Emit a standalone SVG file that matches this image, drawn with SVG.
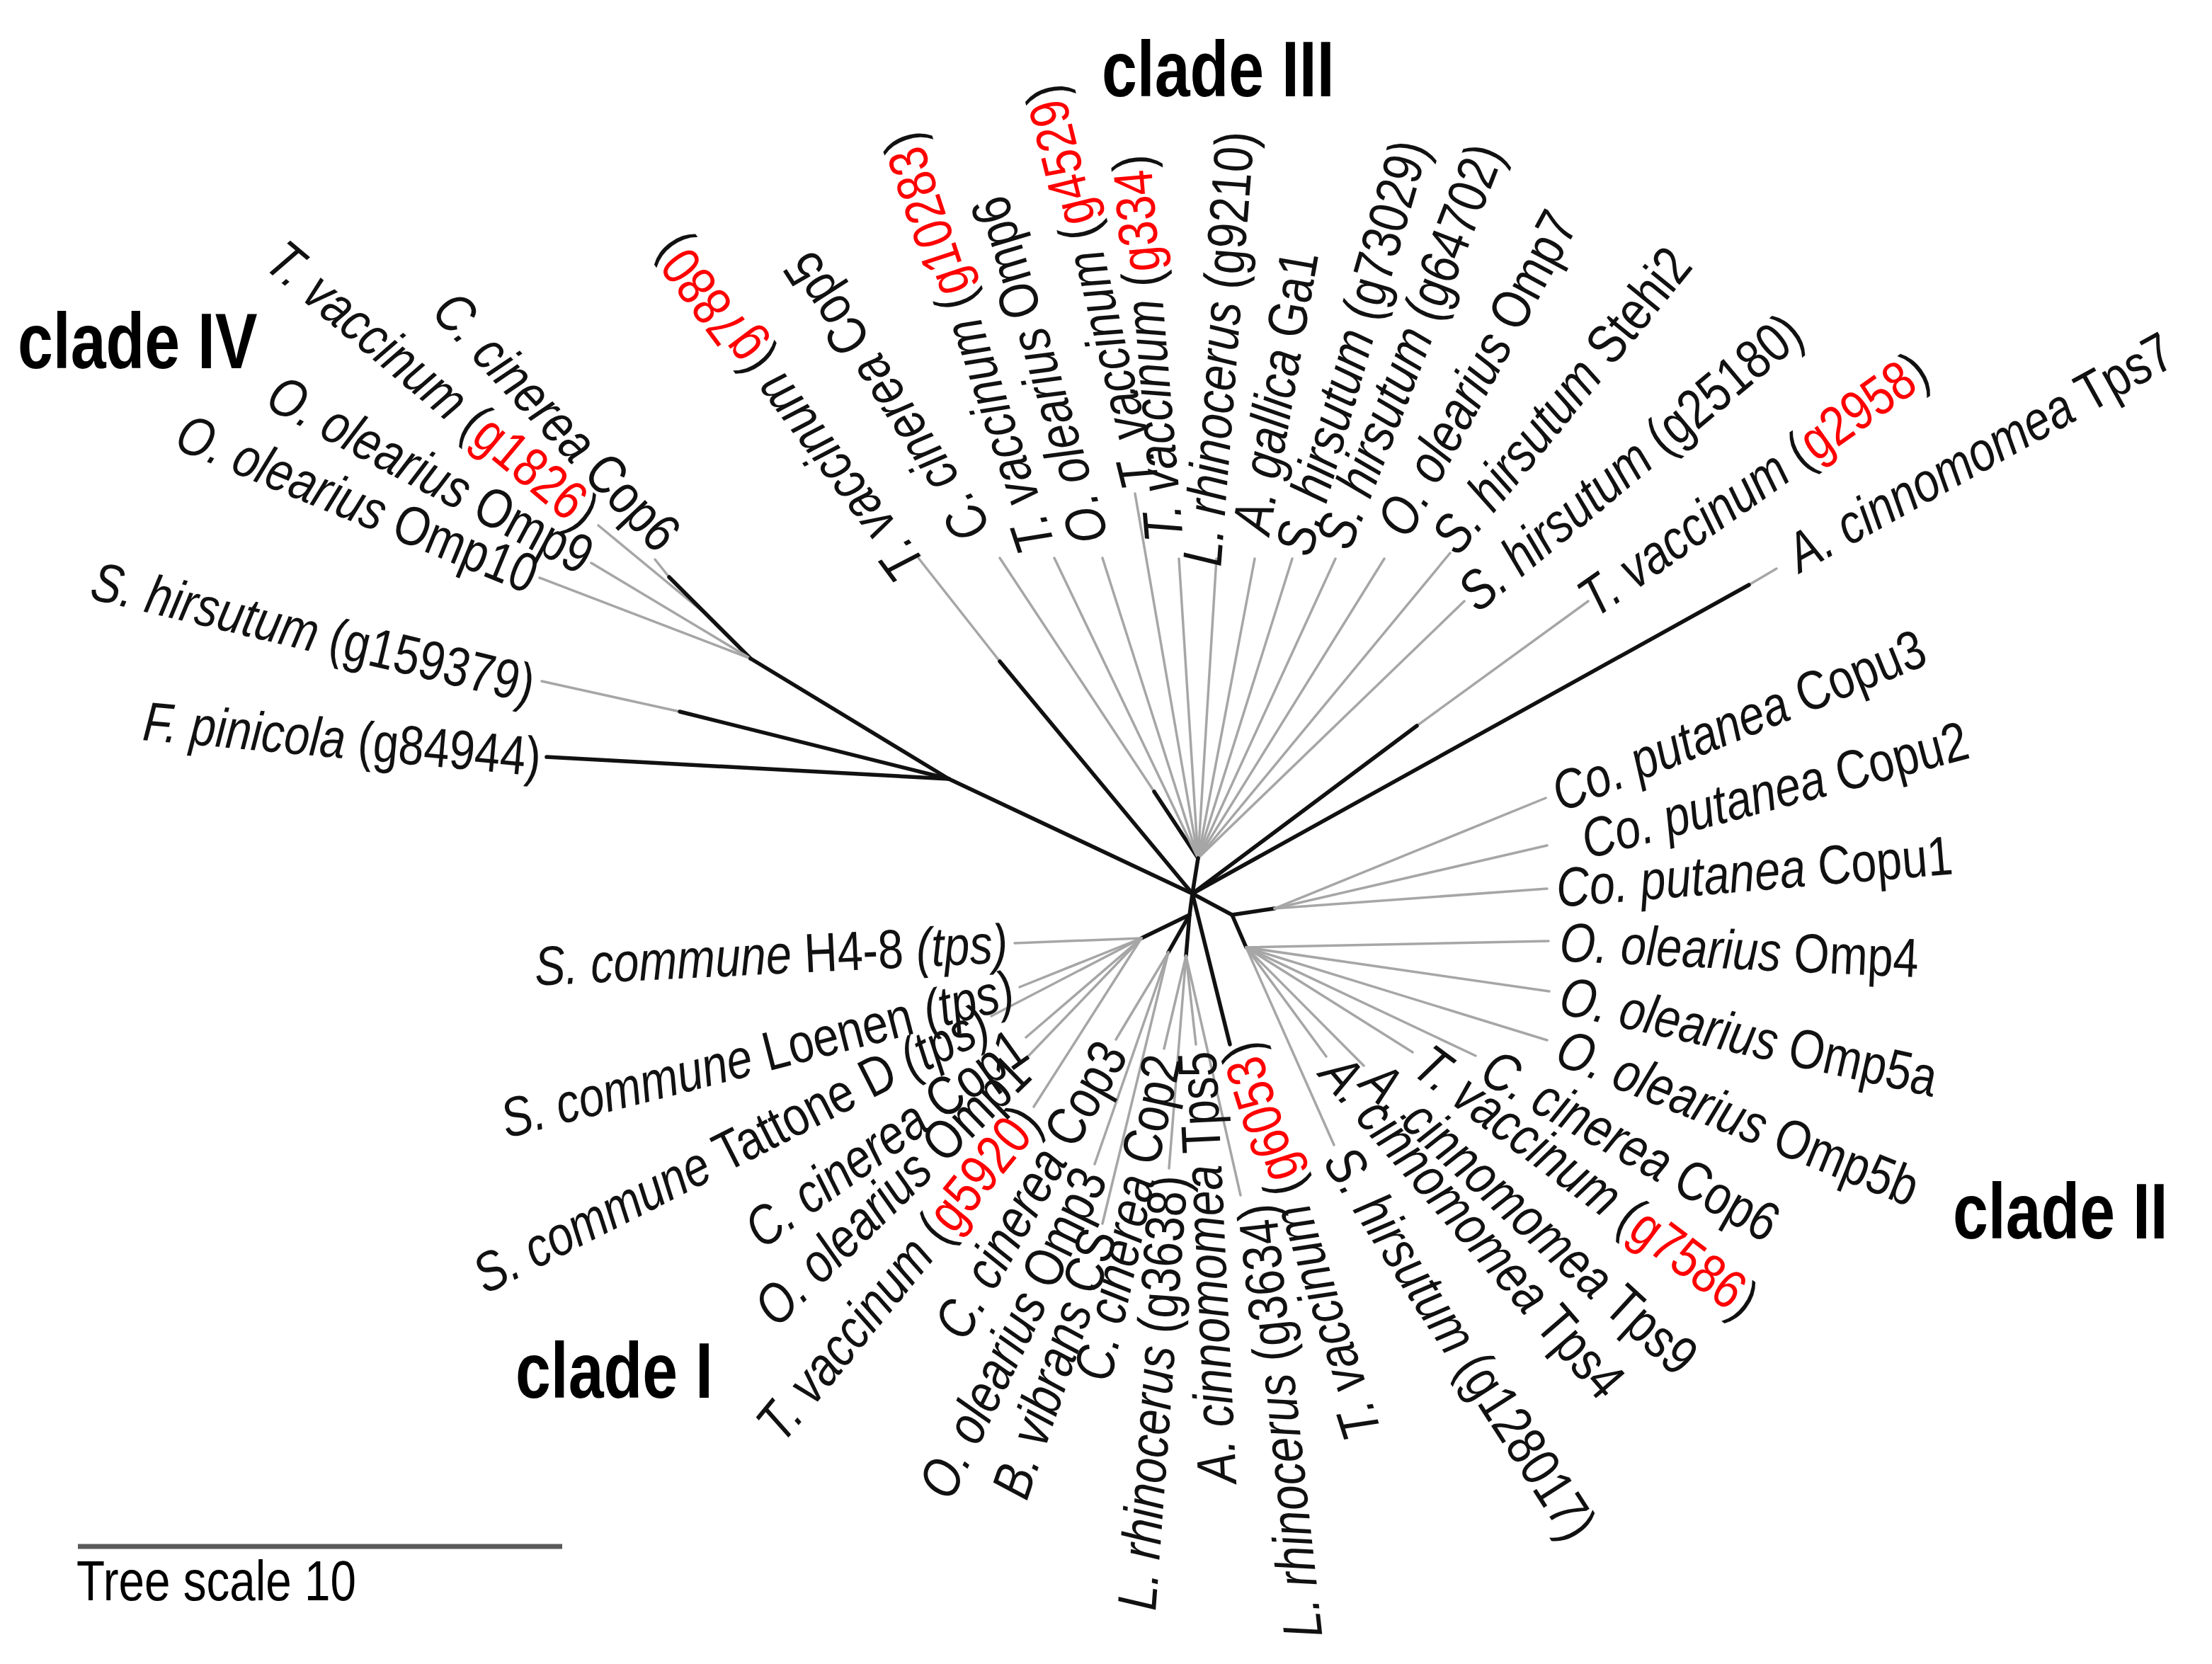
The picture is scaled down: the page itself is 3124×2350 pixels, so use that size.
<svg xmlns="http://www.w3.org/2000/svg" width="3124" height="2350" viewBox="0 0 3124 2350">
<style>
.l{font-family:"Liberation Sans",Arial,Helvetica,sans-serif;font-size:78px;fill:#111;dominant-baseline:central}
.i{font-style:italic}
.r{fill:#ff0000}
.c{font-family:"Liberation Sans",Arial,Helvetica,sans-serif;font-size:112px;font-weight:bold;fill:#000}
.s{font-family:"Liberation Sans",Arial,Helvetica,sans-serif;font-size:80px;fill:#000}
.t{stroke:#a6a6a6;stroke-width:3.5;fill:none;stroke-linecap:round}
.b{stroke:#111;stroke-width:5.5;fill:none;stroke-linecap:round}
</style>
<rect width="3124" height="2350" fill="#ffffff"/>
<g id="connectors">
<!-- clade IV -->
<path class="t" d="M845,742 L1000,870"/>
<path class="t" d="M925,790 L945,815"/>
<path class="b" d="M945,815 L1060,930"/>
<path class="t" d="M835,795 L1060,930"/>
<path class="t" d="M762,816 L1060,930"/>
<path class="b" d="M1060,930 L1340,1100"/>
<path class="t" d="M765,962 L960,1005"/>
<path class="b" d="M960,1005 L1340,1100"/>
<path class="b" d="M772,1069 L1340,1100"/>
<path class="b" d="M1340,1100 L1684,1262"/>
<!-- clade III -->
<path class="t" d="M1297,788 L1412,934"/>
<path class="b" d="M1412,934 L1684,1262"/>
<path class="t" d="M1412,788 L1630,1118"/>
<path class="b" d="M1630,1118 L1692,1212"/>
<path class="t" d="M1489,788 L1692,1212"/>
<path class="t" d="M1557,788 L1692,1212"/>
<path class="t" d="M1603,697 L1692,1212"/>
<path class="t" d="M1665,789 L1692,1212"/>
<path class="t" d="M1718,789 L1692,1212"/>
<path class="t" d="M1772,789 L1692,1212"/>
<path class="t" d="M1825,789 L1692,1212"/>
<path class="t" d="M1886,789 L1692,1212"/>
<path class="t" d="M1955,789 L1692,1212"/>
<path class="t" d="M2048,781 L1692,1212"/>
<path class="t" d="M2068,849 L1692,1212"/>
<path class="b" d="M1692,1212 L1684,1262"/>
<path class="t" d="M2243,849 L2001,1025"/>
<path class="b" d="M2001,1025 L1684,1262"/>
<path class="t" d="M2509,803 L2470,826"/>
<path class="b" d="M2470,826 L1684,1262"/>
<!-- clade II -->
<path class="b" d="M1684,1262 L1740,1292"/>
<path class="b" d="M1740,1292 L1800,1283"/>
<path class="b" d="M1740,1292 L1760,1338"/>
<path class="t" d="M2183,1127 L1800,1283"/>
<path class="t" d="M2185,1194 L1800,1283"/>
<path class="t" d="M2185,1255 L1800,1283"/>
<path class="t" d="M2187,1329 L1760,1338"/>
<path class="t" d="M2188,1400 L1760,1338"/>
<path class="t" d="M2185,1469 L1760,1338"/>
<path class="t" d="M2084,1491 L1760,1338"/>
<path class="t" d="M1995,1486 L1760,1338"/>
<path class="t" d="M1926,1505 L1760,1338"/>
<path class="t" d="M1873,1492 L1760,1338"/>
<path class="t" d="M1884,1617 L1760,1338"/>
<!-- clade I -->
<path class="b" d="M1684,1262 L1680,1292"/>
<path class="b" d="M1680,1292 L1612,1325"/>
<path class="b" d="M1680,1292 L1650,1345"/>
<path class="b" d="M1680,1292 L1675,1350"/>
<path class="b" d="M1684,1262 L1737,1475"/>
<path class="t" d="M1433,1332 L1612,1325"/>
<path class="t" d="M1440,1394 L1612,1325"/>
<path class="t" d="M1400,1435 L1612,1325"/>
<path class="t" d="M1449,1465 L1612,1325"/>
<path class="t" d="M1448,1496 L1612,1325"/>
<path class="t" d="M1460,1563 L1612,1325"/>
<path class="t" d="M1576,1468 L1650,1345"/>
<path class="t" d="M1546,1644 L1650,1345"/>
<path class="t" d="M1557,1728 L1650,1345"/>
<path class="t" d="M1644,1481 L1675,1350"/>
<path class="t" d="M1651,1650 L1675,1350"/>
<path class="t" d="M1689,1475 L1675,1350"/>
<path class="t" d="M1752,1688 L1675,1350"/>
</g>
<!-- clade IV leaves -->
<g id="n-g1826"><text class="l" text-anchor="end" transform="translate(835 731) rotate(40) scale(0.83 1)"><tspan class="i">T. vaccinum</tspan> (<tspan class="r">g1826</tspan>)</text></g>
<g id="n-cop6-iv"><text class="l" text-anchor="end" transform="translate(947 765) rotate(46.8) scale(0.83 1)"><tspan class="i">C. cinerea</tspan> Cop6</text></g>
<g id="n-omp9"><text class="l" text-anchor="end" transform="translate(832 789) rotate(28.1) scale(0.83 1)"><tspan class="i">O. olearius</tspan> Omp9</text></g>
<g id="n-omp10"><text class="l" text-anchor="end" transform="translate(756 814) rotate(22.4) scale(0.83 1)"><tspan class="i">O. olearius</tspan> Omp10</text></g>
<g id="n-g159379"><text class="l" text-anchor="end" transform="translate(754 967) rotate(13.4) scale(0.83 1)"><tspan class="i">S. hirsutum</tspan> (g159379)</text></g>
<g id="n-g84944"><text class="l" text-anchor="end" transform="translate(764 1069) rotate(5.2) scale(0.83 1)"><tspan class="i">F. pinicola</tspan> (g84944)</text></g>
<!-- clade III leaves -->
<g id="n-g7880"><text class="l" transform="translate(1287 812) rotate(-126.7) scale(0.83 1)"><tspan class="i">T. vaccinum</tspan> (<tspan class="r">g7880</tspan>)</text></g>
<g id="n-cop5"><text class="l" transform="translate(1378 758) rotate(-122.7) scale(0.83 1)"><tspan class="i">C. cinerea</tspan> Cop5</text></g>
<g id="n-g10283"><text class="l" transform="translate(1465 779) rotate(-108.3) scale(0.83 1)"><tspan class="i">T. vaccinum</tspan> (<tspan class="r">g10283</tspan>)</text></g>
<g id="n-omp6"><text class="l" transform="translate(1540 766) rotate(-106.6) scale(0.83 1)"><tspan class="i">O. olearius</tspan> Omp6</text></g>
<g id="n-g4529"><text class="l" transform="translate(1612 689) rotate(-103.8) scale(0.83 1)"><tspan class="i">T. vaccinum</tspan> (<tspan class="r">g4529</tspan>)</text></g>
<g id="n-g334"><text class="l" transform="translate(1644 765) rotate(-94.9) scale(0.83 1)"><tspan class="i">T. vaccinum</tspan> (<tspan class="r">g334</tspan>)</text></g>
<g id="n-g9210"><text class="l" transform="translate(1697 799) rotate(-85.6) scale(0.83 1)"><tspan class="i">L. rhinocerus</tspan> (g9210)</text></g>
<g id="n-ga1"><text class="l" transform="translate(1766 752) rotate(-80.1) scale(0.83 1)"><tspan class="i">A. gallica</tspan> Ga1</text></g>
<g id="n-g73029"><text class="l" transform="translate(1825 781) rotate(-74) scale(0.83 1)"><tspan class="i">S. hirsutum</tspan> (g73029)</text></g>
<g id="n-g64702"><text class="l" transform="translate(1881 770) rotate(-68.8) scale(0.83 1)"><tspan class="i">S. hirsutum</tspan> (g64702)</text></g>
<g id="n-omp7"><text class="l" transform="translate(1965 750) rotate(-61.6) scale(0.83 1)"><tspan class="i">O. olearius</tspan> Omp7</text></g>
<g id="n-stehi2"><text class="l" transform="translate(2038 770) rotate(-50.9) scale(0.83 1)"><tspan class="i">S. hirsutum</tspan> Stehi2</text></g>
<g id="n-g25180"><text class="l" transform="translate(2070 846) rotate(-39.9) scale(0.83 1)"><tspan class="i">S. hirsutum</tspan> (g25180)</text></g>
<g id="n-g2958"><text class="l" transform="translate(2237 852) rotate(-35.3) scale(0.83 1)"><tspan class="i">T. vaccinum</tspan> (<tspan class="r">g2958</tspan>)</text></g>
<g id="n-tps7"><text class="l" transform="translate(2529 786) rotate(-29) scale(0.83 1)"><tspan class="i">A. cinnomomea</tspan> Tps7</text></g>
<!-- clade II leaves -->
<g id="n-copu3"><text class="l" transform="translate(2195 1122) rotate(-22) scale(0.83 1)"><tspan class="i">Co. putanea</tspan> Copu3</text></g>
<g id="n-copu2"><text class="l" transform="translate(2235 1187) rotate(-14.8) scale(0.83 1)"><tspan class="i">Co. putanea</tspan> Copu2</text></g>
<g id="n-copu1"><text class="l" transform="translate(2198 1254) rotate(-4.8) scale(0.83 1)"><tspan class="i">Co. putanea</tspan> Copu1</text></g>
<g id="n-omp4"><text class="l" transform="translate(2203 1330) rotate(2.6) scale(0.83 1)"><tspan class="i">O. olearius</tspan> Omp4</text></g>
<g id="n-omp5a"><text class="l" transform="translate(2205 1404) rotate(12.6) scale(0.83 1)"><tspan class="i">O. olearius</tspan> Omp5a</text></g>
<g id="n-omp5b"><text class="l" transform="translate(2203 1476) rotate(22) scale(0.83 1)"><tspan class="i">O. olearius</tspan> Omp5b</text></g>
<g id="n-cop6-ii"><text class="l" transform="translate(2100 1502) rotate(29.5) scale(0.83 1)"><tspan class="i">C. cinerea</tspan> Cop6</text></g>
<g id="n-g7586"><text class="l" transform="translate(2007 1493) rotate(36.9) scale(0.83 1)"><tspan class="i">T. vaccinum</tspan> (<tspan class="r">g7586</tspan>)</text></g>
<g id="n-tps9"><text class="l" transform="translate(1936 1514) rotate(42.5) scale(0.83 1)"><tspan class="i">A. cinnomomea</tspan> Tps9</text></g>
<g id="n-tps4"><text class="l" transform="translate(1881 1501) rotate(49.2) scale(0.83 1)"><tspan class="i">A. cinnomomea</tspan> Tps4</text></g>
<g id="n-g128017"><text class="l" transform="translate(1890 1627) rotate(57.3) scale(0.83 1)"><tspan class="i">S. hirsutum</tspan> (g128017)</text></g>
<!-- bottom / clade I leaves -->
<g id="n-g6053"><text class="l" text-anchor="end" transform="translate(1748 1475) rotate(-107.7) scale(0.83 1)"><tspan class="i">T. vaccinum</tspan> (<tspan class="r">g6053</tspan>)</text></g>
<g id="n-g3634"><text class="l" text-anchor="end" transform="translate(1774 1701) rotate(-96.2) scale(0.83 1)"><tspan class="i">L. rhinocerus</tspan> (g3634)</text></g>
<g id="n-tps5"><text class="l" text-anchor="end" transform="translate(1690 1485) rotate(-92.7) scale(0.83 1)"><tspan class="i">A. cinnomomea</tspan> Tps5</text></g>
<g id="n-g3638"><text class="l" text-anchor="end" transform="translate(1650 1660) rotate(-85.8) scale(0.83 1)"><tspan class="i">L. rhinocerus</tspan> (g3638)</text></g>
<g id="n-cop2"><text class="l" text-anchor="end" transform="translate(1642 1491) rotate(-77.6) scale(0.83 1)"><tspan class="i">C. cinerea</tspan> Cop2</text></g>
<g id="n-cs"><text class="l" text-anchor="end" transform="translate(1553 1738) rotate(-71) scale(0.83 1)"><tspan class="i">B. vibrans</tspan> CS</text></g>
<g id="n-omp3"><text class="l" text-anchor="end" transform="translate(1541 1654) rotate(-64) scale(0.83 1)"><tspan class="i">O. olearius</tspan> Omp3</text></g>
<g id="n-cop3"><text class="l" text-anchor="end" transform="translate(1571 1477) rotate(-60.3) scale(0.83 1)"><tspan class="i">C. cinerea</tspan> Cop3</text></g>
<g id="n-g5920"><text class="l" text-anchor="end" transform="translate(1453 1571) rotate(-50.8) scale(0.83 1)"><tspan class="i">T. vaccinum</tspan> (<tspan class="r">g5920</tspan>)</text></g>
<g id="n-omp1"><text class="l" text-anchor="end" transform="translate(1441 1503) rotate(-44.3) scale(0.83 1)"><tspan class="i">O. olearius</tspan> Omp1</text></g>
<g id="n-cop1"><text class="l" text-anchor="end" transform="translate(1441 1471) rotate(-35.6) scale(0.83 1)"><tspan class="i">C. cinerea</tspan> Cop1</text></g>
<g id="n-tattone"><text class="l" text-anchor="end" transform="translate(1391 1440) rotate(-26.9) scale(0.83 1)"><tspan class="i">S. commune</tspan> Tattone D <tspan class="i">(tps)</tspan></text></g>
<g id="n-loenen"><text class="l" text-anchor="end" transform="translate(1430 1396) rotate(-14.4) scale(0.83 1)"><tspan class="i">S. commune</tspan> Loenen <tspan class="i">(tps)</tspan></text></g>
<g id="n-h48"><text class="l" text-anchor="end" transform="translate(1423 1332) rotate(-2.8) scale(0.83 1)"><tspan class="i">S. commune</tspan> H4-8 <tspan class="i">(tps)</tspan></text></g>
<!-- clade labels -->
<g id="clade-labels">
<text class="c" transform="translate(25 520) scale(0.8 1)">clade IV</text>
<text class="c" transform="translate(1556 136) scale(0.8 1)">clade III</text>
<text class="c" transform="translate(2758 1749) scale(0.8 1)">clade II</text>
<text class="c" transform="translate(728 1974) scale(0.8 1)">clade I</text>
</g>
<g id="scale-bar">
<line x1="110" y1="2184" x2="794" y2="2184" stroke="#5a5a5a" stroke-width="7"/>
<text class="s" transform="translate(108 2260) scale(0.82 1)">Tree scale 10</text>
</g>
</svg>
